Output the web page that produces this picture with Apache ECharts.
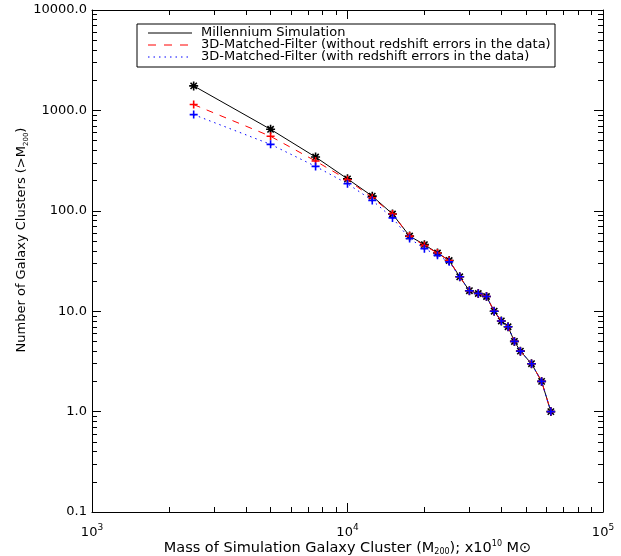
<!DOCTYPE html>
<html>
<head>
<meta charset="utf-8">
<script src="https://cdn.jsdelivr.net/npm/echarts@6/dist/echarts.min.js"></script>
<style>
html,body{margin:0;padding:0;background:#fff;}
#chart{width:621px;height:556px;}
</style>
</head>
<body>
<div id="chart"></div>
<script>
// ---- data ----
const masses = [2500, 5000, 7500, 10000, 12500, 15000, 17500, 20000, 22500, 25000, 27500, 30000, 32500, 35000, 37500, 40000, 42500, 45000, 47500, 52500, 57500, 62500];
const millennium = [1754, 648, 343, 208, 140, 93, 56, 46, 38, 32, 22, 16, 15, 14, 10, 8, 7, 5, 4, 3, 2, 1];
const mfNoErr    = [1143, 552, 313, 204, 135, 93, 56, 45, 38, 32, 22, 16, 15, 14, 10, 8, 7, 5, 4, 3, 2, 1];
const mfWithErr  = [908, 459, 277, 186, 127, 85, 53, 42, 36, 31, 22, 16, 15, 14, 10, 8, 7, 5, 4, 3, 2, 1];

const seriesNames = [
  'Millennium Simulation',
  '3D-Matched-Filter (without redshift errors in the data)',
  '3D-Matched-Filter (with redshift errors in the data)'
];

const xMajor = [1000, 10000, 100000];
const yMajor = [0.1, 1, 10, 100, 1000, 10000];

function minorsOf(lo, hi) {
  const out = [];
  for (let d = lo; d < hi; d *= 10) {
    for (let k = 2; k <= 9; k++) out.push(+(d * k).toPrecision(6));
  }
  return out;
}
const xMinor = minorsOf(1000, 100000);
const yMinor = minorsOf(0.1, 10000);

const FONT = 'DejaVu Sans';
const black = '#000';

function makeXAxis(pos, major, showLabels) {
  const vals = major ? xMajor : xMinor;
  const ax = {
    type: 'log', logBase: 10, min: 1000, max: 100000, position: pos,
    axisLine: { show: major, lineStyle: { color: black, width: 1 } },
    axisTick: { show: true, inside: true, length: major ? 9 : 5, customValues: vals, lineStyle: { color: black, width: 1 } },
    axisLabel: { show: showLabels },
    splitLine: { show: false },
    minorTick: { show: false }
  };
  if (showLabels) {
    ax.axisLabel = {
      show: true, customValues: xMajor, margin: 11,
      formatter: v => '10{sup|' + Math.round(Math.log10(v)) + '}',
      color: black, fontFamily: FONT, fontSize: 13, lineHeight: 20,
      rich: {
        sup: { fontSize: 9, fontFamily: FONT, color: black, verticalAlign: 'top', lineHeight: 20 }
      }
    };
    ax.name = 'Mass of Simulation Galaxy Cluster (M{sub|200}); x10{sup|10} M\u2299';
    ax.nameLocation = 'middle';
    ax.nameMoveOverlap = false;
    ax.nameGap = 28;
    ax.nameTextStyle = {
      color: black, fontFamily: FONT, fontSize: 14.5, lineHeight: 16,
      rich: {
        sub: { fontSize: 8, fontFamily: FONT, color: black, verticalAlign: 'bottom', lineHeight: 16 },
        sup: { fontSize: 8, fontFamily: FONT, color: black, verticalAlign: 'top', lineHeight: 16 }
      }
    };
  }
  return ax;
}

function makeYAxis(pos, major, showLabels) {
  const vals = major ? yMajor : yMinor;
  const ax = {
    type: 'log', logBase: 10, min: 0.1, max: 10000, position: pos,
    axisLine: { show: major, lineStyle: { color: black, width: 1 } },
    axisTick: { show: true, inside: true, length: major ? 9 : 5, customValues: vals, lineStyle: { color: black, width: 1 } },
    axisLabel: { show: showLabels },
    splitLine: { show: false },
    minorTick: { show: false }
  };
  if (showLabels) {
    ax.axisLabel = {
      show: true, customValues: yMajor, margin: 5,
      formatter: v => Number(v).toFixed(1),
      color: black, fontFamily: FONT, fontSize: 13
    };
    ax.name = 'Number of Galaxy Clusters (>M{sub|200})';
    ax.nameLocation = 'middle';
    ax.nameRotate = 90;
    ax.nameMoveOverlap = false;
    ax.nameGap = 62;
    ax.nameTextStyle = {
      color: black, fontFamily: FONT, fontSize: 13, lineHeight: 16,
      padding: [0, 0, 0, 42],
      rich: {
        sub: { fontSize: 7, fontFamily: FONT, color: black, verticalAlign: 'bottom', lineHeight: 16 }
      }
    };
  }
  return ax;
}

const asterisk = 'path://M0,5L10,5M5,0L5,10M1.5,1.5L8.5,8.5M1.5,8.5L8.5,1.5';
const plus = 'path://M0,5L10,5M5,0L5,10';

function zip(ys) { return masses.map((m, i) => [m, ys[i]]); }

const chart = echarts.init(document.getElementById('chart'), null, { renderer: 'canvas' });

const legendX = 137, legendY = 24, legendW = 418, legendH = 43;
const rows = [33, 45, 57];
const legendFont = '13px "DejaVu Sans"';

chart.setOption({
  animation: false,
  backgroundColor: '#fff',
  grid: { left: 92, right: 18, top: 10, bottom: 44, containLabel: false, outerBoundsMode: 'none' },
  xAxis: [
    makeXAxis('bottom', true, true),
    makeXAxis('bottom', false, false),
    makeXAxis('top', true, false),
    makeXAxis('top', false, false)
  ],
  yAxis: [
    makeYAxis('left', true, true),
    makeYAxis('left', false, false),
    makeYAxis('right', true, false),
    makeYAxis('right', false, false)
  ],
  series: [
    {
      name: seriesNames[0], type: 'line', xAxisIndex: 0, yAxisIndex: 0,
      data: zip(millennium), symbol: asterisk, symbolSize: 9,
      lineStyle: { color: black, width: 1, type: 'solid' },
      itemStyle: { color: black, borderColor: black, borderWidth: 1.6 },
      z: 2
    },
    {
      name: seriesNames[1], type: 'line', xAxisIndex: 0, yAxisIndex: 0,
      data: zip(mfNoErr), symbol: plus, symbolSize: 8,
      lineStyle: { color: '#ff0000', width: 1, type: [7, 7] },
      itemStyle: { color: '#ff0000', borderColor: '#ff0000', borderWidth: 1.6 },
      z: 3
    },
    {
      name: seriesNames[2], type: 'line', xAxisIndex: 0, yAxisIndex: 0,
      data: zip(mfWithErr), symbol: plus, symbolSize: 8,
      lineStyle: { color: '#0000ff', width: 1, type: [1.5, 4] },
      itemStyle: { color: '#0000ff', borderColor: '#0000ff', borderWidth: 1.6 },
      z: 4
    }
  ],
  graphic: [
    { type: 'rect', shape: { x: legendX, y: legendY, width: legendW, height: legendH },
      style: { fill: '#fff', stroke: black, lineWidth: 1 }, z: 10 },
    { type: 'line', shape: { x1: 148, y1: rows[0], x2: 192, y2: rows[0] }, style: { stroke: black, lineWidth: 1 }, z: 11 },
    { type: 'line', shape: { x1: 148, y1: rows[1], x2: 192, y2: rows[1] }, style: { stroke: '#ff0000', lineWidth: 1, lineDash: [8, 8] }, z: 11 },
    { type: 'line', shape: { x1: 148, y1: rows[2], x2: 192, y2: rows[2] }, style: { stroke: '#0000ff', lineWidth: 1, lineDash: [1.5, 4] }, z: 11 },
    { type: 'text', x: 201, y: rows[0], style: { text: seriesNames[0], fill: black, font: legendFont, verticalAlign: 'middle' }, z: 11 },
    { type: 'text', x: 201, y: rows[1], style: { text: seriesNames[1], fill: black, font: legendFont, verticalAlign: 'middle' }, z: 11 },
    { type: 'text', x: 201, y: rows[2], style: { text: seriesNames[2], fill: black, font: legendFont, verticalAlign: 'middle' }, z: 11 }
  ]
});
</script>
</body>
</html>
